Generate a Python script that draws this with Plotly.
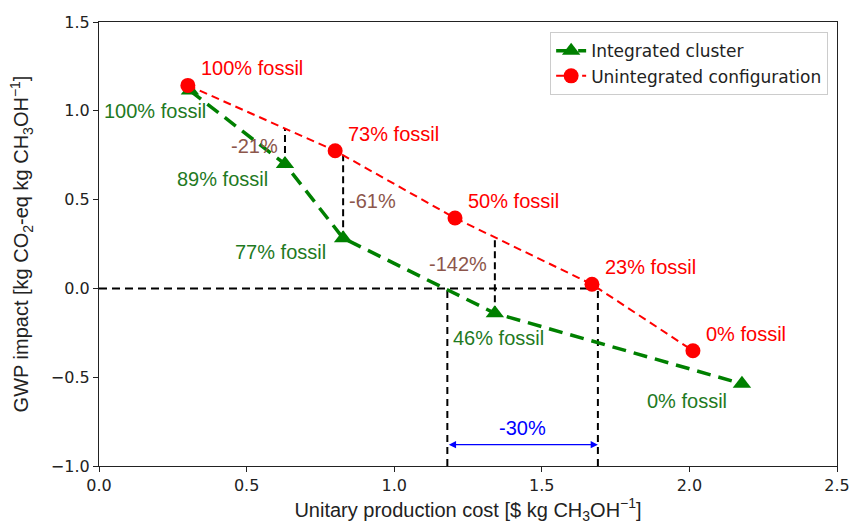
import numpy as np
import plotly.graph_objects as go

# ---- data ----
integrated_cost = [0.308, 0.630, 0.827, 1.341, 2.178]
integrated_gwp = [1.114, 0.700, 0.283, -0.140, -0.537]
integrated_labels = ["100% fossil", "89% fossil", "77% fossil", "46% fossil", "0% fossil"]

unintegrated_cost = [0.301, 0.800, 1.206, 1.670, 2.012]
unintegrated_gwp = [1.143, 0.775, 0.396, 0.023, -0.351]
unintegrated_labels = ["100% fossil", "73% fossil", "50% fossil", "23% fossil", "0% fossil"]

gap_indices = [1, 2, 3]
gap_labels = ["-21%", "-61%", "-142%"]

zero_cost_integrated = 1.18
zero_cost_unintegrated = 1.69
cost_gap_label = "-30%"
arrow_gwp = -0.88

x_ticks = [0.0, 0.5, 1.0, 1.5, 2.0, 2.5]
y_ticks = [-1.0, -0.5, 0.0, 0.5, 1.0, 1.5]

# ---- styles ----
RED = "#ff0000"
GREEN = "#008000"
GREEN_TXT = "#1f7a1f"
BROWN = "#8c564b"
ANN_FONT = "Liberation Sans, Arial, sans-serif"
TICK_FONT = "DejaVu Sans, sans-serif"
ANN_SIZE = 20

fig = go.Figure()

# horizontal zero line up to unintegrated break-even
fig.add_trace(go.Scatter(x=[0, zero_cost_unintegrated], y=[0, 0], mode="lines",
                         line=dict(color="black", width=2, dash="8px,5px"),
                         showlegend=False, hoverinfo="skip"))
# vertical break-even lines
for xc in [zero_cost_integrated, zero_cost_unintegrated]:
    fig.add_trace(go.Scatter(x=[xc, xc], y=[-1.0, 0], mode="lines",
                             line=dict(color="black", width=2, dash="7px,5px"),
                             showlegend=False, hoverinfo="skip"))

# vertical gap lines between the two curves
red_at = np.interp([integrated_cost[i] for i in gap_indices], unintegrated_cost, unintegrated_gwp)
for k, i in enumerate(gap_indices):
    fig.add_trace(go.Scatter(x=[integrated_cost[i], integrated_cost[i]],
                             y=[integrated_gwp[i], red_at[k]], mode="lines",
                             line=dict(color="black", width=2, dash="7px,4px"),
                             showlegend=False, hoverinfo="skip"))

fig.add_trace(go.Scatter(x=integrated_cost, y=integrated_gwp, mode="lines+markers",
                         name="Integrated cluster",
                         line=dict(color=GREEN, width=3.5, dash="14px,8px"),
                         marker=dict(symbol="triangle-up", size=16, color=GREEN)))
fig.add_trace(go.Scatter(x=unintegrated_cost, y=unintegrated_gwp, mode="lines+markers",
                         name="Unintegrated configuration",
                         line=dict(color=RED, width=2, dash="8px,5px"),
                         marker=dict(symbol="circle", size=15, color=RED)))

annotations = []
# red labels: up-right of each point
for xv, yv, t in zip(unintegrated_cost, unintegrated_gwp, unintegrated_labels):
    annotations.append(dict(x=xv, y=yv, text=t, showarrow=False, xanchor="left",
                            yanchor="middle", xshift=11, yshift=17,
                            font=dict(family=ANN_FONT, size=ANN_SIZE, color=RED)))
# green label offsets (pixels): (xanchor, xshift, yshift)
green_offsets = [("right", 18, -20), ("right", -15, -15), ("right", -15, -14),
                 ("center", 4, -25), ("right", -13, -17)]
for (xv, yv, t), (xa, xs, ys) in zip(zip(integrated_cost, integrated_gwp, integrated_labels), green_offsets):
    annotations.append(dict(x=xv, y=yv, text=t, showarrow=False, xanchor=xa,
                            yanchor="middle", xshift=xs, yshift=ys,
                            font=dict(family=ANN_FONT, size=ANN_SIZE, color=GREEN_TXT)))
# gap percent labels
gap_offsets = [("right", -5, 0), ("left", 4, -4), ("right", -6, 11)]
for k, i in enumerate(gap_indices):
    xa, xs, ys = gap_offsets[k]
    ym = (integrated_gwp[i] + red_at[k]) / 2
    annotations.append(dict(x=integrated_cost[i], y=ym, text=gap_labels[k], showarrow=False,
                            xanchor=xa, yanchor="middle", xshift=xs, yshift=ys,
                            font=dict(family=ANN_FONT, size=ANN_SIZE, color=BROWN)))
# double arrow
annotations.append(dict(x=zero_cost_unintegrated, y=arrow_gwp, ax=zero_cost_integrated, ay=arrow_gwp,
                        xref="x", yref="y", axref="x", ayref="y", text="", showarrow=True,
                        arrowside="end+start", arrowhead=2, arrowsize=1.2, arrowwidth=1.2,
                        arrowcolor="blue", standoff=0, startstandoff=0))
annotations.append(dict(x=(zero_cost_integrated + zero_cost_unintegrated) / 2, y=arrow_gwp,
                        text=cost_gap_label, showarrow=False, yanchor="middle", yshift=17,
                        font=dict(family=ANN_FONT, size=ANN_SIZE, color="blue")))

axis_common = dict(showline=True, linecolor="#222", linewidth=1.2, mirror=True,
                   ticks="outside", ticklen=5, tickwidth=1.2, tickcolor="#222",
                   showgrid=False, zeroline=False, automargin=False,
                   tickfont=dict(family=TICK_FONT, size=16, color="#222"))

fig.update_layout(
    width=850, height=527,
    margin=dict(l=99, r=13, t=22, b=61),
    plot_bgcolor="white", paper_bgcolor="white",
    xaxis=dict(range=[0, 2.5], tickvals=x_ticks, ticktext=[f"{v:.1f}" for v in x_ticks],
               title=dict(text="Unitary production cost [$ kg CH<sub>3</sub>OH<sup>−1</sup>]",
                          font=dict(family=ANN_FONT, size=ANN_SIZE, color="#222"), standoff=6),
               **axis_common),
    yaxis=dict(range=[-1.0, 1.5], tickvals=y_ticks,
               ticktext=[f"{v:.1f}".replace("-", "−") for v in y_ticks],
               title=dict(text="GWP impact [kg CO<sub>2</sub>-eq kg CH<sub>3</sub>OH<sup>−1</sup>]",
                          font=dict(family=ANN_FONT, size=ANN_SIZE, color="#222"), standoff=16),
               **axis_common),
    legend=dict(x=0.988, y=0.977, xanchor="right", yanchor="top",
                bordercolor="#cccccc", borderwidth=1, bgcolor="rgba(255,255,255,0.8)",
                font=dict(family=TICK_FONT, size=17, color="#222"),
                itemwidth=30, tracegroupgap=0),
    annotations=annotations,
    showlegend=True,
)

fig.write_html("out.html", config={"displayModeBar": False},
               post_script="document.body.style.margin='0';")
